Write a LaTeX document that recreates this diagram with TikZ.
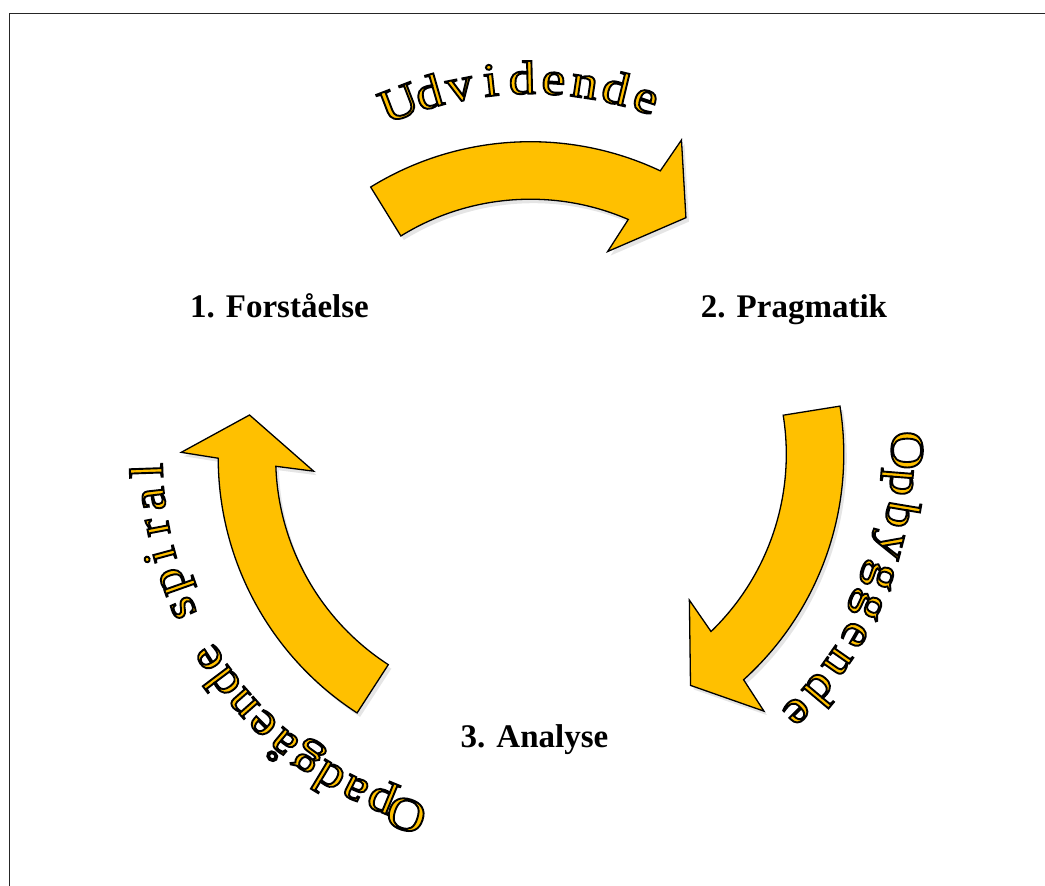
\documentclass[tikz,border=0pt]{standalone}
\usepackage{fontspec}
\setmainfont{Liberation Serif}
\newfontfamily\goldfam[FakeStretch=1.14]{Liberation Serif}
\usetikzlibrary{shadows,calc}
\definecolor{gold}{RGB}{255,192,0}
\newcommand\goldfont{\goldfam\fontsize{47}{47}\selectfont}
\newcommand\labelfont{\fontsize{33}{33}\selectfont\bfseries}
\newcommand\outlined[1]{{\color{gold}\special{pdf:literal direct 0 0 0 RG 2 Tr 1.9 w}#1\special{pdf:literal direct 0 Tr}}}
\newlength\chw
% #1 centre, #2 radius, #3 start angle, #4 end angle, #5 letters
\newcommand\arctext[5]{%
  \gdef\totw{0}\gdef\nch{0}%
  \foreach \lettr in {#5}{%
    \settowidth\chw{\goldfont\lettr}%
    \pgfmathsetmacro\tmpv{\totw+\chw}\xdef\totw{\tmpv}%
    \pgfmathsetmacro\tmpv{\nch+1}\xdef\nch{\tmpv}}%
  \pgfmathsetmacro\gapw{(rad((#3)-(#4))*#2-\totw)/(\nch-1)}\xdef\gapw{\gapw}%
  \xdef\curang{#3}%
  \foreach \lettr in {#5}{%
    \settowidth\chw{\goldfont\lettr}%
    \pgfmathsetmacro\midang{\curang-deg((\chw/2)/#2)}%
    \node[goldletter] at ($#1+(\midang:#2)$) {\outlined{\lettr}};
    \pgfmathsetmacro\tmpv{\curang-deg((\chw+\gapw)/#2)}\xdef\curang{\tmpv}}%
}
% #1 centre, #2 tail angle
\newcommand\bigarrow[2]{%
  \pgfmathsetmacro\aA{#2-57}\pgfmathsetmacro\aB{#2-58}%
  \pgfmathsetmacro\aC{#2-66}\pgfmathsetmacro\aD{#2-53.4}%
  \pgfmathsetmacro\aE{#2-55.1}%
  \begin{scope}[shift={#1}]
    \path[arrowshape] (#2:304) arc[start angle=#2, end angle=\aA, radius=304]
      -- (\aB:341) -- (\aC:276) -- (\aD:209) -- (\aE:246.5)
      arc[start angle=\aE, end angle=#2, radius=246.5] -- cycle;
  \end{scope}}
\begin{document}
\begin{tikzpicture}[x=1pt,y=1pt,
  arrowshape/.style={fill=gold, draw=black, line width=1.3pt, line join=miter,
    drop shadow={shadow xshift=3pt, shadow yshift=-4pt, opacity=0.2}},
  goldletter/.style={rotate=\midang-90, anchor=base, inner sep=0pt, outer sep=0pt, font=\goldfont},
  steplabel/.style={font=\labelfont, anchor=base, inner sep=0pt}]
\useasboundingbox (0,0) rectangle (1045,886);
\fill[white] (0,0) rectangle (1045,886);
\draw[line width=1.5pt, black!85] (9.5,0) -- (9.5,872.5) -- (1045,872.5);

\bigarrow{(530.4,440.3)}{121.7}
\bigarrow{(539.8,431.8)}{9.1}
\bigarrow{(522.2,428.3)}{237.1}

\node[steplabel] (s1) at (279.5,568) {1. Forståelse};
\node[steplabel] (s2) at (794,568) {2. Pragmatik};
\node[steplabel] (s3) at (534.5,138) {3. Analyse};

\arctext{(530.4,440.3)}{352}{111}{71.6}{U,d,v,i,d,e,n,d,e}
\arctext{(539.8,431.8)}{352}{0.6}{-45}{O,p,b,y,g,g,e,n,d,e}
\arctext{(522.2,428.3)}{360}{-108}{-178}{O,p,a,d,g,å,e,n,d,e,\space,s,p,i,r,a,l}
\end{tikzpicture}
\end{document}
